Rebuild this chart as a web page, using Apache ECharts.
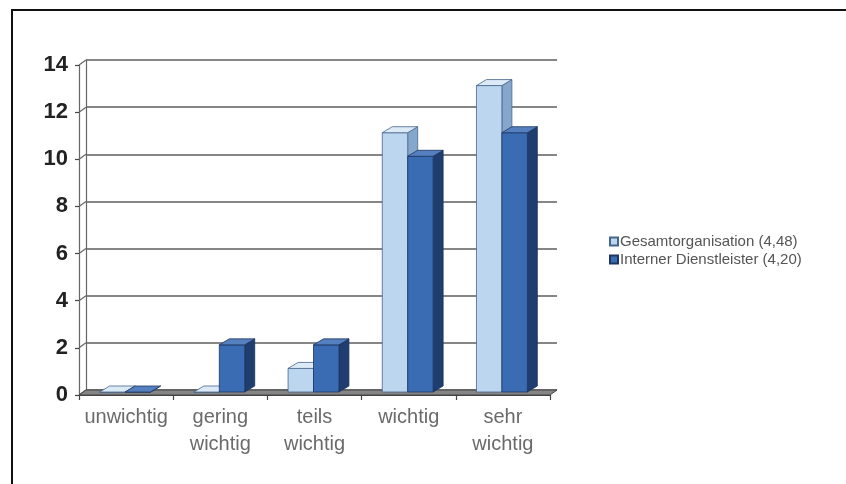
<!DOCTYPE html>
<html>
<head>
<meta charset="utf-8">
<script src="https://cdn.jsdelivr.net/npm/echarts@6/dist/echarts.min.js"></script>
<style>
  html, body { margin: 0; padding: 0; background: #fff; }
  #frame { position: absolute; left: 11px; top: 9px; width: 900px; height: 600px;
           border-left: 2px solid #111; border-top: 2px solid #111; }
  #chart { position: absolute; left: 0; top: 0; width: 846px; height: 484px; }
</style>
</head>
<body>
<div id="frame"></div>
<div id="chart"></div>
<script>
// Rating categories and answer counts per group
const categories = ['unwichtig', 'gering\nwichtig', 'teils\nwichtig', 'wichtig', 'sehr\nwichtig'];
const gesamtName = 'Gesamtorganisation (4,48)';
const internName = 'Interner Dienstleister (4,20)';
const gesamtValues = [0, 0, 1, 11, 13];
const internValues = [0, 2, 2, 10, 11];
const yTicks = [0, 2, 4, 6, 8, 10, 12, 14];

// 3D look: wall offset of the back plane, bar depth and bar placement
const WALL = [7, -5];
const DEPTH = [10, -6];
const BAR_SHIFT = [-1, -3];
const BAR_FRAC = 0.27;

const palettes = [
  { front: '#bcd6ef', top: '#dceaf7', side: '#86a7cc', line: '#46658c' },
  { front: '#3a6cb4', top: '#5580c0', side: '#1f3d6e', line: '#1d3560' }
];

function barRenderer(idx) {
  const pal = palettes[idx];
  return function (params, api) {
    const ci = api.value(0), v = api.value(1);
    const base = api.coord([ci, 0]);
    const topP = api.coord([ci, v]);
    const w = api.size([1, 0])[0] * BAR_FRAC;
    const x0 = base[0] + BAR_SHIFT[0] + (idx === 0 ? -w : 0);
    const x1 = x0 + w;
    const yb = base[1] + BAR_SHIFT[1];
    const yt = topP[1] + BAR_SHIFT[1];
    const dx = DEPTH[0], dy = DEPTH[1];
    const st = { stroke: pal.line, lineWidth: 0.8 };
    return {
      type: 'group',
      children: [
        { type: 'polygon', shape: { points: [[x1, yt], [x1 + dx, yt + dy], [x1 + dx, yb + dy], [x1, yb]] },
          style: Object.assign({ fill: pal.side }, st) },
        { type: 'rect', shape: { x: x0, y: yt, width: w, height: yb - yt },
          style: Object.assign({ fill: pal.front }, st) },
        { type: 'polygon', shape: { points: [[x0, yt], [x1, yt], [x1 + dx, yt + dy], [x0 + dx, yt + dy]] },
          style: Object.assign({ fill: pal.top }, st) }
      ]
    };
  };
}

// Floor slab below the bars
function floorRenderer(params, api) {
  const cs = params.coordSys;
  const y0 = api.coord([0, 0])[1];
  const xl = cs.x, xr = cs.x + cs.width;
  return {
    type: 'polygon',
    shape: { points: [[xl, y0], [xr, y0], [xr + WALL[0], y0 + WALL[1]], [xl + WALL[0], y0 + WALL[1]]] },
    style: { fill: '#858585', stroke: '#444', lineWidth: 1 }
  };
}

// Left side wall: lines from the front axis back to the wall gridlines
function sideWallRenderer(params, api) {
  const cs = params.coordSys;
  const y = api.coord([0, api.value(0)])[1];
  return {
    type: 'line',
    shape: { x1: cs.x, y1: y, x2: cs.x + WALL[0], y2: y + WALL[1] },
    style: { stroke: '#666', lineWidth: 1.2 }
  };
}

const chart = echarts.init(document.getElementById('chart'), null, { renderer: 'canvas' });
chart.setOption({
  backgroundColor: 'transparent',
  animation: false,
  grid: [
    { left: 79, right: 296, top: 65, bottom: 89 },
    { left: 79 + WALL[0], right: 296 - WALL[0], top: 65 + WALL[1], bottom: 89 - WALL[1] }
  ],
  xAxis: [
    {
      type: 'category', gridIndex: 0, data: categories, boundaryGap: true,
      axisLine: { show: true, lineStyle: { color: '#444', width: 1.2 } },
      axisTick: { show: true, length: 5, lineStyle: { color: '#444', width: 1.2 } },
      axisLabel: { margin: 9, fontFamily: 'Liberation Sans', fontSize: 20, lineHeight: 27, color: '#6a6a6a', interval: 0 }
    },
    { type: 'category', gridIndex: 1, data: categories, show: false }
  ],
  yAxis: [
    {
      type: 'value', gridIndex: 0, min: 0, max: 14, interval: 2,
      axisLine: { show: true, lineStyle: { color: '#666', width: 1.2 } },
      axisTick: { show: true, length: 4, lineStyle: { color: '#444', width: 1.2 } },
      splitLine: { show: false },
      axisLabel: { margin: 11, fontFamily: 'Liberation Sans', fontSize: 22, fontWeight: 'bold', color: '#222' }
    },
    {
      type: 'value', gridIndex: 1, min: 0, max: 14, interval: 2,
      axisLine: { show: true, lineStyle: { color: '#666', width: 1.2 } },
      axisTick: { show: false }, axisLabel: { show: false },
      splitLine: { show: true, lineStyle: { color: '#5e5e5e', width: 1.5 } }
    }
  ],
  legend: {
    orient: 'vertical', left: 604, top: 229, itemGap: 3,
    itemWidth: 8, itemHeight: 8, icon: 'rect',
    textStyle: { fontFamily: 'Liberation Sans', fontSize: 15, color: '#555', padding: [0, 0, 0, -3] },
    data: [gesamtName, internName]
  },
  series: [
    {
      type: 'custom', name: 'wall', xAxisIndex: 0, yAxisIndex: 0, z: 1,
      data: yTicks.map(t => [t]), renderItem: sideWallRenderer, silent: true
    },
    {
      type: 'custom', name: 'floor', xAxisIndex: 0, yAxisIndex: 0, z: 2,
      data: [[0]], renderItem: floorRenderer, silent: true
    },
    {
      type: 'custom', name: gesamtName, xAxisIndex: 0, yAxisIndex: 0, z: 3,
      itemStyle: { color: palettes[0].front, borderColor: palettes[0].line, borderWidth: 1 },
      encode: { x: 0, y: 1 },
      data: gesamtValues.map((v, i) => [i, v]), renderItem: barRenderer(0)
    },
    {
      type: 'custom', name: internName, xAxisIndex: 0, yAxisIndex: 0, z: 4,
      itemStyle: { color: palettes[1].front, borderColor: palettes[1].line, borderWidth: 1 },
      encode: { x: 0, y: 1 },
      data: internValues.map((v, i) => [i, v]), renderItem: barRenderer(1)
    }
  ]
});
</script>
</body>
</html>
